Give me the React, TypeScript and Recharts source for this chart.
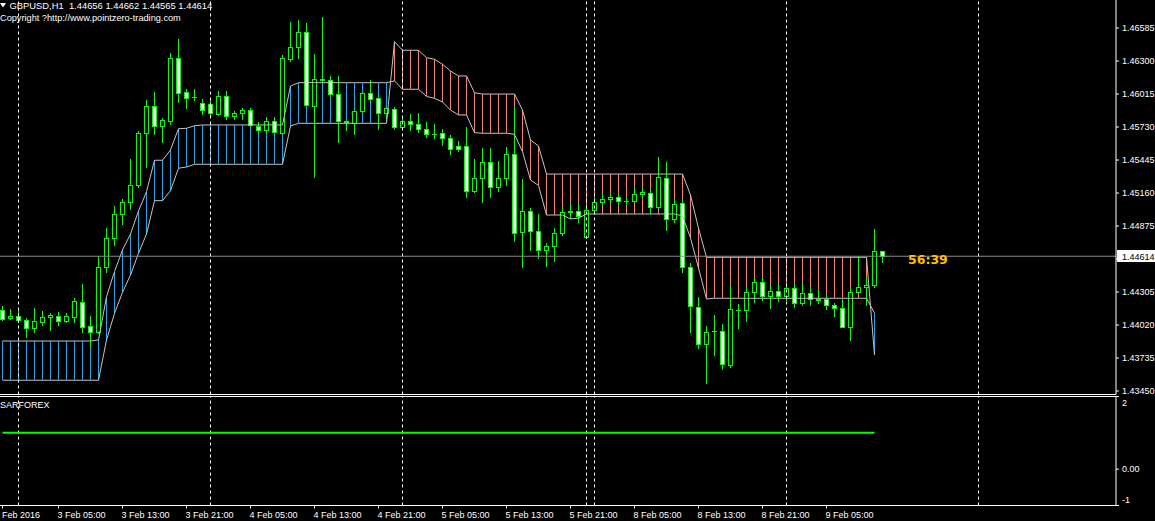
import { ComposedChart, LineChart, Line, Bar, XAxis, YAxis, ReferenceLine } from 'recharts'

// GBPUSD H1, bar 0 = 2 Feb 2016 22:00
const opens = [
  1.44147, 1.44078, 1.44101, 1.44061, 1.43992, 1.44049, 1.44087, 1.44101, 1.44057, 1.44092,
  1.44222, 1.44009, 1.43957, 1.44519, 1.44769, 1.44976, 1.4508, 1.45227, 1.45676, 1.45912,
  1.45741, 1.45785, 1.46326, 1.4603, 1.45989, 1.45935, 1.45926, 1.45845, 1.45995, 1.45823,
  1.45849, 1.45877, 1.45741, 1.45702, 1.4578, 1.45681, 1.4632, 1.46419, 1.46548, 1.45914,
  1.46142, 1.46139, 1.46013, 1.45771, 1.45767, 1.45866, 1.46021, 1.45978, 1.45849, 1.45883,
  1.45728, 1.4578, 1.45754, 1.4571, 1.45674, 1.45676, 1.45633, 1.45564, 1.45564, 1.45175,
  1.45287, 1.45425, 1.4521, 1.45287, 1.45495, 1.44821, 1.45002, 1.4483, 1.44665, 1.447,
  1.44812, 1.45002, 1.45002, 1.44778, 1.45011, 1.4508, 1.45106, 1.45123, 1.45089, 1.45089,
  1.45149, 1.45158, 1.45037, 1.45287, 1.44933, 1.45071, 1.44524, 1.44178, 1.43854, 1.43971,
  1.43971, 1.43675, 1.4415, 1.44147, 1.44303, 1.44389, 1.44268, 1.44311, 1.44268, 1.44337,
  1.44208, 1.44294, 1.44242, 1.44242, 1.4419, 1.44165, 1.44006, 1.44303, 1.44346, 1.44363,
  1.44656,
]
const highs = [
  1.44184, 1.44159, 1.4415, 1.44078, 1.44165, 1.44141, 1.44124, 1.44135, 1.44121, 1.44254,
  1.44372, 1.44098, 1.44619, 1.44855, 1.45048, 1.45108, 1.45454, 1.45696, 1.45963, 1.46032,
  1.45808, 1.46369, 1.4649, 1.46058, 1.46058, 1.45972, 1.45963, 1.46041, 1.46041, 1.45868,
  1.45894, 1.4589, 1.45771, 1.45819, 1.45819, 1.46352, 1.4664, 1.46654, 1.46626, 1.46361,
  1.46678, 1.46168, 1.46168, 1.45786, 1.45873, 1.46035, 1.46136, 1.45989, 1.45903, 1.45906,
  1.45828, 1.4584, 1.45849, 1.45771, 1.45754, 1.4571, 1.45661, 1.45607, 1.45728, 1.45454,
  1.45546, 1.45546, 1.45434, 1.45558, 1.45903, 1.45279, 1.45028, 1.44976, 1.44726, 1.44855,
  1.45028, 1.45071, 1.45071, 1.45042, 1.45123, 1.45149, 1.45158, 1.45158, 1.45123, 1.4521,
  1.4521, 1.45192, 1.45469, 1.45425, 1.45097, 1.45097, 1.44553, 1.4426, 1.44012, 1.44104,
  1.44029, 1.44357, 1.44202, 1.44337, 1.44432, 1.44432, 1.44355, 1.44372, 1.4438, 1.4438,
  1.4438, 1.44337, 1.44329, 1.44268, 1.44208, 1.44242, 1.44337, 1.44616, 1.44424, 1.44847,
  1.44662,
]
const lows = [
  1.44064, 1.4407, 1.44046, 1.43914, 1.43963, 1.4402, 1.43977, 1.4402, 1.44049, 1.44049,
  1.43963, 1.43833, 1.43951, 1.44481, 1.44711, 1.44893, 1.45022, 1.45212, 1.45387, 1.4567,
  1.45603, 1.45756, 1.45949, 1.45897, 1.45963, 1.4584, 1.45825, 1.45834, 1.45799, 1.45802,
  1.45802, 1.45739, 1.45685, 1.45691, 1.45678, 1.45674, 1.46303, 1.46329, 1.45912, 1.45301,
  1.46119, 1.45998, 1.45603, 1.45704, 1.45667, 1.4586, 1.45963, 1.45713, 1.45805, 1.45713,
  1.45722, 1.45704, 1.45685, 1.45647, 1.45638, 1.45577, 1.455, 1.45526, 1.45128, 1.45169,
  1.4508, 1.45128, 1.4518, 1.45227, 1.44743, 1.44521, 1.44668, 1.44602, 1.44532, 1.44577,
  1.44798, 1.44942, 1.44912, 1.44772, 1.45005, 1.45057, 1.45071, 1.45054, 1.45054, 1.45083,
  1.45123, 1.44994, 1.45031, 1.44838, 1.44907, 1.44482, 1.43963, 1.43824, 1.43517, 1.43764,
  1.43643, 1.4366, 1.43997, 1.44057, 1.44216, 1.44236, 1.4417, 1.44228, 1.44236, 1.44173,
  1.44193, 1.4419, 1.44208, 1.44156, 1.44101, 1.43999, 1.43893, 1.44297, 1.4419, 1.44346,
  1.44565,
]
const closes = [
  1.44075, 1.44101, 1.44061, 1.43992, 1.44052, 1.44087, 1.44104, 1.44057, 1.44095, 1.44225,
  1.44006, 1.43957, 1.44519, 1.44769, 1.44976, 1.45083, 1.45227, 1.45676, 1.45912, 1.45741,
  1.45788, 1.46326, 1.46026, 1.45983, 1.45985, 1.4588, 1.45847, 1.45998, 1.45821, 1.45849,
  1.45877, 1.45748, 1.45702, 1.4578, 1.45685, 1.46324, 1.46419, 1.46548, 1.45918, 1.46142,
  1.4614, 1.46013, 1.4578, 1.4578, 1.45866, 1.46021, 1.45975, 1.45849, 1.45892, 1.45726,
  1.4578, 1.45754, 1.4571, 1.45667, 1.45671, 1.45633, 1.45538, 1.45538, 1.45175, 1.45287,
  1.45425, 1.4521, 1.45287, 1.45495, 1.44812, 1.45002, 1.4483, 1.44665, 1.447, 1.44812,
  1.44994, 1.45, 1.44959, 1.45011, 1.4508, 1.45106, 1.45123, 1.45089, 1.45087, 1.45149,
  1.45166, 1.45037, 1.45296, 1.44933, 1.45063, 1.44519, 1.44187, 1.43854, 1.43963, 1.43968,
  1.43681, 1.44156, 1.44147, 1.44303, 1.44389, 1.44268, 1.44311, 1.44268, 1.44337, 1.44208,
  1.44294, 1.44242, 1.4424, 1.4419, 1.44165, 1.44006, 1.44303, 1.44346, 1.44363, 1.44657,
  1.44614,
]

// the two cloud lines (hatched blue when A is on top, salmon when B is)
const spanA = [
  1.43882, 1.43882, 1.43882, 1.43882, 1.43882, 1.43882, 1.43882, 1.43882, 1.43882, 1.43882,
  1.43882, 1.43882, 1.43891, 1.44265, 1.44481, 1.44668, 1.44806, 1.45005, 1.45172, 1.45443,
  1.45443, 1.45532, 1.45716, 1.45719, 1.45741, 1.45748, 1.45748, 1.45748, 1.45748, 1.45748,
  1.45748, 1.45748, 1.45748, 1.45748, 1.45748, 1.45748, 1.46084, 1.46113, 1.46113, 1.46113,
  1.46113, 1.46113, 1.46113, 1.46113, 1.46113, 1.46113, 1.46113, 1.46113, 1.46113, 1.46128,
  1.46056, 1.46056, 1.46056, 1.45994, 1.45978, 1.45946, 1.45877, 1.45834, 1.45834, 1.45681,
  1.45676, 1.45676, 1.45676, 1.45676, 1.45667, 1.45517, 1.45273, 1.45225, 1.4497, 1.4497,
  1.4497, 1.44936, 1.44944, 1.44979, 1.44979, 1.44979, 1.44979, 1.44979, 1.44979, 1.44979,
  1.44979, 1.44979, 1.44979, 1.44979, 1.44979, 1.44962, 1.44772, 1.44513, 1.44245, 1.44251,
  1.44251, 1.44251, 1.44251, 1.44251, 1.44251, 1.44251, 1.44251, 1.44251, 1.44251, 1.44251,
  1.44251, 1.44251, 1.44251, 1.44251, 1.44251, 1.44251, 1.44251, 1.44251, 1.44251, 1.44124,
]
const spanB = [
  1.43543, 1.43543, 1.43543, 1.43543, 1.43543, 1.43543, 1.43543, 1.43543, 1.43543, 1.43543,
  1.43543, 1.43543, 1.43543, 1.43891, 1.44121, 1.44303, 1.44452, 1.4464, 1.44806, 1.45094,
  1.45094, 1.4518, 1.45374, 1.45385, 1.45408, 1.45408, 1.45408, 1.45408, 1.45408, 1.45408,
  1.45408, 1.45408, 1.45408, 1.45408, 1.45408, 1.45408, 1.45739, 1.45762, 1.45762, 1.45762,
  1.45762, 1.45762, 1.45762, 1.45762, 1.45762, 1.45762, 1.45762, 1.45762, 1.45762, 1.46467,
  1.46393, 1.46393, 1.46393, 1.46329, 1.46315, 1.46272, 1.46214, 1.46171, 1.46171, 1.46026,
  1.46015, 1.46015, 1.46015, 1.46015, 1.46015, 1.45877, 1.45618, 1.45566, 1.45324, 1.45324,
  1.45324, 1.45324, 1.45324, 1.45324, 1.45324, 1.45324, 1.45324, 1.45324, 1.45324, 1.45324,
  1.45324, 1.45324, 1.45324, 1.45324, 1.45324, 1.45324, 1.45143, 1.44855, 1.44605, 1.44605,
  1.44605, 1.44605, 1.44605, 1.44605, 1.44605, 1.44605, 1.44605, 1.44605, 1.44605, 1.44605,
  1.44605, 1.44605, 1.44605, 1.44605, 1.44605, 1.44605, 1.44605, 1.44605, 1.44605, 1.43761,
]

const sarForex = [
  1, 1, 1, 1, 1, 1, 1, 1, 1, 1, 1, 1, 1, 1, 1, 1, 1, 1, 1, 1, 1, 1,
  1, 1, 1, 1, 1, 1, 1, 1, 1, 1, 1, 1, 1, 1, 1, 1, 1, 1, 1, 1, 1, 1,
  1, 1, 1, 1, 1, 1, 1, 1, 1, 1, 1, 1, 1, 1, 1, 1, 1, 1, 1, 1, 1, 1,
  1, 1, 1, 1, 1, 1, 1, 1, 1, 1, 1, 1, 1, 1, 1, 1, 1, 1, 1, 1, 1, 1,
  1, 1, 1, 1, 1, 1, 1, 1, 1, 1, 1, 1, 1, 1, 1, 1, 1, 1, 1, 1, 1, 1,
]

const timeTicks = [0, 7, 15, 23, 31, 39, 47, 55, 63, 71, 79, 87, 95, 103]
const timeLabels = [
  '2 Feb 2016', '3 Feb 05:00', '3 Feb 13:00', '3 Feb 21:00', '4 Feb 05:00', '4 Feb 13:00',
  '4 Feb 21:00', '5 Feb 05:00', '5 Feb 13:00', '5 Feb 21:00', '8 Feb 05:00', '8 Feb 13:00',
  '8 Feb 21:00', '9 Feb 05:00',
]
const daySeparators = [2, 26, 50, 73, 74, 98, 122]
const priceTicks = [
  1.46585, 1.463, 1.46015, 1.4573, 1.45445, 1.4516, 1.44875, 1.4459, 1.44305, 1.4402, 1.43735, 1.4345,
]
const subTicks = [2, 0, -1]
const lastPrice = 1.44614
const title = 'GBPUSD,H1  1.44656 1.44662 1.44565 1.44614'

const FONT = '"Liberation Sans", Arial, sans-serif'
const LIME = '#00ff00'
const BLUE = '#1fa8ee'
const SALMON = '#fa8072'
const CLOUD = '#c4c4c4'
const X_DOMAIN: [number, number] = [-0.3125, 139.1875]
const Y_DOMAIN: [number, number] = [1.4342, 1.46827]

const rows = opens.map((o, i) => ({
  i,
  open: o,
  high: highs[i],
  low: lows[i],
  close: closes[i],
  range: [lows[i], highs[i]],
  a: spanA[i],
  b: spanB[i],
  cloud: spanA[i] == null ? null : [Math.min(spanA[i], spanB[i]), Math.max(spanA[i], spanB[i])],
}))
const subRows = sarForex.map((v, i) => ({ i, v }))

// eslint-disable-next-line @typescript-eslint/no-explicit-any
function Candle(props: any) {
  const { x, y, width, height, payload } = props
  if (!payload || payload.open == null) return null
  const { open, close, high, low } = payload
  const top = Math.min(y, y + height)
  const h = Math.abs(height)
  const k = high > low ? h / (high - low) : 0
  const cx = Math.floor(x + width / 2 + 0.01) + 0.5
  const py = (v: number) => Math.round(top + (high - v) * k) + 0.5
  const yO = py(open)
  const yC = py(close)
  const bull = close > open
  return (
    <g>
      <line x1={cx} x2={cx} y1={Math.round(top)} y2={Math.round(top + h) + 1} stroke={LIME} />
      {yO === yC ? (
        <line x1={cx - 2.5} x2={cx + 2.5} y1={yO} y2={yO} stroke={LIME} />
      ) : (
        <rect
          x={cx - 2}
          y={Math.min(yO, yC)}
          width={4}
          height={Math.abs(yO - yC)}
          fill={bull ? '#000' : '#fff'}
          stroke={LIME}
        />
      )}
    </g>
  )
}

// eslint-disable-next-line @typescript-eslint/no-explicit-any
function Hatch(props: any) {
  const { x, y, width, height, payload } = props
  if (!payload || payload.a == null) return null
  const cx = Math.floor(x + width / 2 + 0.01) + 0.5
  const top = Math.round(Math.min(y, y + height))
  const bot = Math.round(Math.max(y, y + height))
  return <line x1={cx} x2={cx} y1={top} y2={bot} stroke={payload.a > payload.b ? BLUE : SALMON} />
}

// eslint-disable-next-line @typescript-eslint/no-explicit-any
function TimeTick({ x, y, payload }: any) {
  const idx = timeTicks.indexOf(payload.value)
  return (
    <text x={x + (idx === 0 ? -8 : -1)} y={y + 7.5} fill="#fff" fontSize={9} fontFamily={FONT} textAnchor="start">
      {timeLabels[idx]}
    </text>
  )
}

// eslint-disable-next-line @typescript-eslint/no-explicit-any
function SubTick({ x, y, payload }: any) {
  const v = payload.value
  const shift = v === 2 ? 6.5 : v === -1 ? -6 : 0
  return (
    <text x={x} y={y + shift + 3.3} fill="#fff" fontSize={9} fontFamily={FONT} textAnchor="start">
      {v === 0 ? '0.00' : String(v)}
    </text>
  )
}

export default function App() {
  return (
    <div style={{ position: 'absolute', left: 0, top: 0, width: 1155, height: 521, background: '#000', overflow: 'hidden' }}>
      <div style={{ position: 'absolute', left: 0, top: 0 }}>
        <ComposedChart width={1155} height={397} data={rows} margin={{ top: 0, right: 0, left: 0, bottom: 2.5 }} barGap={-6}>
          <XAxis type="number" dataKey="i" domain={X_DOMAIN} allowDataOverflow hide />
          <YAxis
            orientation="right"
            width={39}
            domain={Y_DOMAIN}
            allowDataOverflow
            ticks={priceTicks}
            interval={0}
            tickFormatter={(v: number) => v.toFixed(5)}
            tick={{ fill: '#fff', fontSize: 9, fontFamily: FONT }}
            tickSize={3}
            tickMargin={3}
            stroke="#fff"
            tickLine={{ stroke: '#fff' }}
          />
          {daySeparators.map((s) => (
            <ReferenceLine key={s} x={s} stroke="#fff" strokeDasharray="3 3" />
          ))}
          <ReferenceLine y={Y_DOMAIN[0]} stroke="#fff" />
          <Bar dataKey="cloud" barSize={6} shape={<Hatch />} activeBar={false} isAnimationActive={false} />
          <Line dataKey="a" stroke={CLOUD} dot={false} activeDot={false} isAnimationActive={false} strokeWidth={1} />
          <Line dataKey="b" stroke={CLOUD} dot={false} activeDot={false} isAnimationActive={false} strokeWidth={1} />
          <ReferenceLine y={lastPrice} stroke="#8c8c8c" />
          <Bar dataKey="range" barSize={6} shape={<Candle />} activeBar={false} isAnimationActive={false} />
        </ComposedChart>
      </div>
      <div style={{ position: 'absolute', left: 0, top: 394 }}>
        <LineChart width={1155} height={127} data={subRows} margin={{ top: 2.5, right: 0, left: 0, bottom: 0 }}>
          <XAxis
            type="number"
            dataKey="i"
            domain={X_DOMAIN}
            allowDataOverflow
            ticks={timeTicks}
            interval={0}
            height={15.5}
            stroke="#fff"
            tickSize={3}
            tickLine={{ stroke: '#fff' }}
            tick={<TimeTick />}
          />
          <YAxis
            orientation="right"
            width={39}
            domain={[-1, 2]}
            allowDataOverflow
            ticks={subTicks}
            interval={0}
            tickSize={3}
            tickMargin={3}
            stroke="#fff"
            tickLine={{ stroke: '#fff' }}
            tick={<SubTick />}
          />
          {daySeparators.map((s) => (
            <ReferenceLine key={s} x={s} stroke="#fff" strokeDasharray="3 3" />
          ))}
          <ReferenceLine y={2} stroke="#fff" />
          <Line dataKey="v" stroke={LIME} strokeWidth={2} dot={false} activeDot={false} isAnimationActive={false} />
        </LineChart>
      </div>
      <svg width={1155} height={521} style={{ position: 'absolute', left: 0, top: 0, pointerEvents: 'none' }}>
        <polygon points="0,3 6,3 3,7.5" fill="#fff" />
        <text x={9.5} y={8.5} fill="#fff" fontSize={9.4} fontFamily={FONT} style={{ whiteSpace: 'pre' }}>
          {title}
        </text>
        <text x={0} y={20.5} fill="#fff" fontSize={9.2} fontFamily={FONT}>
          Copyright ?http://www.pointzero-trading.com
        </text>
        <text x={0} y={407.5} fill="#fff" fontSize={9} fontFamily={FONT}>
          SARFOREX
        </text>
        <text x={908} y={264} fill="#ffc000" fontSize={12.5} fontWeight="bold" fontFamily='"DejaVu Sans", sans-serif'>
          56:39
        </text>
        <rect x={1117} y={250} width={38} height={12} fill="#fff" />
        <text x={1122} y={259.5} fill="#000" fontSize={9} fontFamily={FONT}>
          {lastPrice.toFixed(5)}
        </text>
      </svg>
    </div>
  )
}
